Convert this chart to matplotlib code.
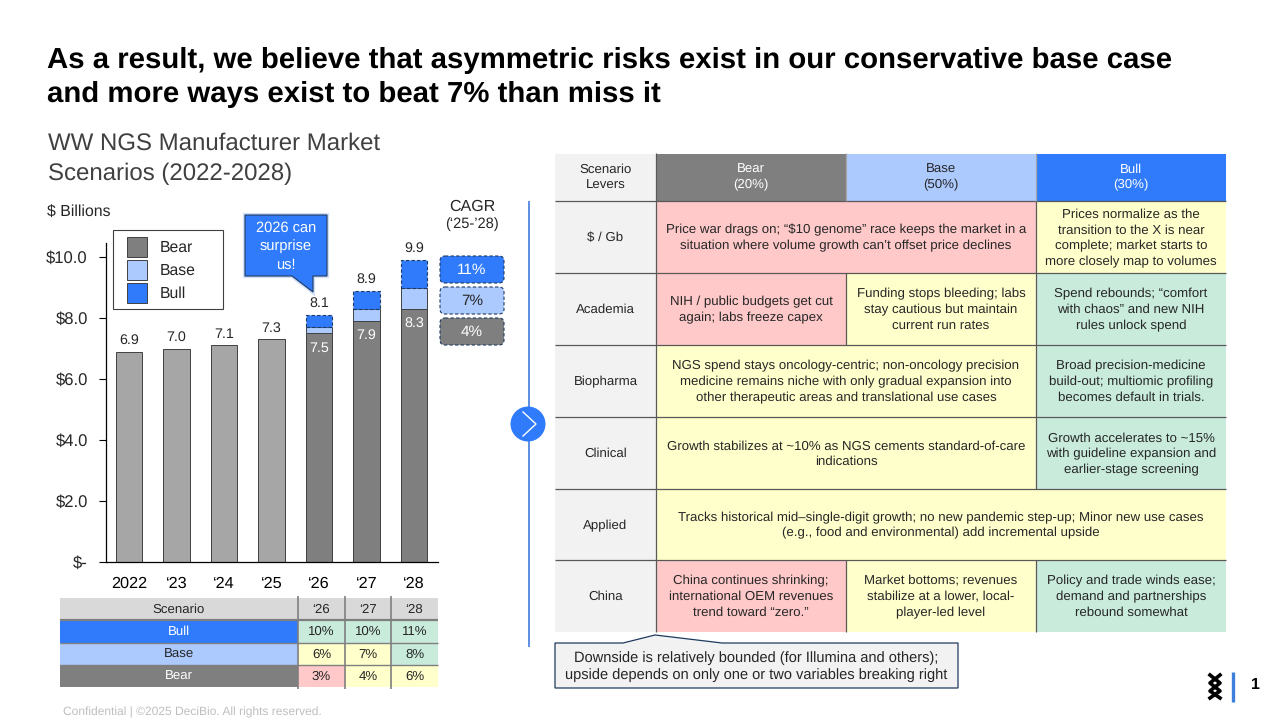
import matplotlib
matplotlib.use("Agg")
import matplotlib.pyplot as plt
from matplotlib.patches import Rectangle, Polygon, Circle, FancyBboxPatch

plt.rcParams['font.family'] = ['Liberation Sans', 'DejaVu Sans']
plt.rcParams['text.hinting'] = 'none'

GREY = "#7f7f7f"
LIGHT_GREY = "#a6a6a6"
BASE = "#adcaff"
BULL = "#2f7bfb"
PINK = "#ffc9c9"
YELLOW = "#ffffcc"
GREEN = "#c8ebdc"
PANEL = "#f2f2f2"
NAVY = "#1f3a5f"
INK = "#262626"

# bar chart
years = ["2022", "‘23", "‘24", "‘25", "‘26", "‘27", "‘28"]
history = [6.9, 7.0, 7.1, 7.3]
bear = [7.5, 7.9, 8.3]
base_top = [7.7, 8.3, 9.0]
bull_top = [8.1, 8.9, 9.9]
yticks = [0, 2, 4, 6, 8, 10]
ytick_labels = ["$-", "$2.0", "$4.0", "$6.0", "$8.0", "$10.0"]
legend_names = ["Bear", "Base", "Bull"]
cagr_labels = ["11%", "7%", "4%"]

# growth table under the chart
growth_years = ["‘26", "‘27", "‘28"]
growth_names = ["Bull", "Base", "Bear"]
growth_values = [["10%", "10%", "11%"], ["6%", "7%", "8%"], ["3%", "4%", "6%"]]
growth_colors = [[GREEN, GREEN, GREEN], [YELLOW, YELLOW, GREEN], [PINK, YELLOW, YELLOW]]

# scenario table: (first column, column span, colour, text)
levers = ["$ / Gb", "Academia", "Biopharma", "Clinical", "Applied", "China"]
scenario_heads = ["Bear\n(20%)", "Base\n(50%)", "Bull\n(30%)"]
scenario_cells = [
    [(0, 2, PINK, "Price war drags on; “$10 genome” race keeps the market in a\nsituation where volume growth can’t offset price declines"),
     (2, 1, YELLOW, "Prices normalize as the\ntransition to the X is near\ncomplete; market starts to\nmore closely map to volumes")],
    [(0, 1, PINK, "NIH / public budgets get cut\nagain; labs freeze capex"),
     (1, 1, YELLOW, "Funding stops bleeding; labs\nstay cautious but maintain\ncurrent run rates"),
     (2, 1, GREEN, "Spend rebounds; “comfort\nwith chaos” and new NIH\nrules unlock spend")],
    [(0, 2, YELLOW, "NGS spend stays oncology-centric; non-oncology precision\nmedicine remains niche with only gradual expansion into\nother therapeutic areas and translational use cases"),
     (2, 1, GREEN, "Broad precision-medicine\nbuild-out; multiomic profiling\nbecomes default in trials.")],
    [(0, 2, YELLOW, "Growth stabilizes at ~10% as NGS cements standard-of-care\nindications"),
     (2, 1, GREEN, "Growth accelerates to ~15%\nwith guideline expansion and\nearlier-stage screening")],
    [(0, 3, YELLOW, "Tracks historical mid–single-digit growth; no new pandemic step-up; Minor new use cases\n(e.g., food and environmental) add incremental upside")],
    [(0, 1, PINK, "China continues shrinking;\ninternational OEM revenues\ntrend toward “zero.”"),
     (1, 1, YELLOW, "Market bottoms; revenues\nstabilize at a lower, local-\nplayer-led level"),
     (2, 1, GREEN, "Policy and trade winds ease;\ndemand and partnerships\nrebound somewhat")],
]

fig = plt.figure(figsize=(12.8, 7.2), dpi=100, facecolor="white")

# slide layer in pixel coordinates
slide = fig.add_axes([0, 0, 1, 1])
slide.set_xlim(0, 1280)
slide.set_ylim(720, 0)
slide.axis("off")


def box(x0, y0, x1, y1, color, edge="none", lw=0, z=1):
    slide.add_patch(Rectangle((x0, y0), x1 - x0, y1 - y0, facecolor=color,
                              edgecolor=edge, linewidth=lw, zorder=z))


def say(x, y, s, size=9.5, color=INK, ha="center", va="center", weight="normal", ls=1.38, z=5):
    slide.text(x, y, s, fontsize=size, color=color, ha=ha, va=va, weight=weight,
               linespacing=ls, ma=ha, zorder=z)


def hline(x0, x1, y, color="#595959", lw=0.9, z=3):
    slide.plot([x0, x1], [y, y], color=color, lw=lw, zorder=z, solid_capstyle="butt")


def vline(x, y0, y1, color="#595959", lw=0.9, z=3):
    slide.plot([x, x], [y0, y1], color=color, lw=lw, zorder=z, solid_capstyle="butt")


# headings
say(47, 60.5, "As a result, we believe that asymmetric risks exist in our conservative base case",
    size=21.17, color="black", ha="left", weight="bold")
say(47, 94.5, "and more ways exist to beat 7% than miss it",
    size=21.17, color="black", ha="left", weight="bold")
say(48, 144, "WW NGS Manufacturer Market", size=17.3, color="#404040", ha="left")
say(48, 174, "Scenarios (2022-2028)", size=17.3, color="#404040", ha="left")
say(47, 212, "$ Billions", size=11.4, ha="left")
say(472, 207, "CAGR", size=11.5)
say(472, 224, "(‘25-’28)", size=10.5)

# bars
ax = fig.add_axes([106 / 1280, (720 - 562) / 720, (438 - 106) / 1280, (562 - 242.5) / 720], zorder=2)
ax.patch.set_visible(False)
ax.set_xlim(-0.484, 6.505)
ax.set_ylim(0, (562 - 242.5) / 30.5)

n_hist = len(history)
hist_x = list(range(n_hist))
scen_x = [n_hist + i for i in range(len(bear))]
bar_w = 0.56
edge = dict(edgecolor="#404040", linewidth=0.7)
ax.bar(hist_x, history, bar_w, color=LIGHT_GREY, **edge)
ax.bar(scen_x, bear, bar_w, color=GREY, **edge)
base_h = [t - b for t, b in zip(base_top, bear)]
bull_h = [t - b for t, b in zip(bull_top, base_top)]
ax.bar(scen_x, base_h, bar_w, bottom=bear, color=BASE, **edge)
ax.bar(scen_x, bull_h, bar_w, bottom=base_top, color=BULL, edgecolor=NAVY, linewidth=0.8, linestyle=(0, (3, 2)))

for x, v in zip(hist_x + scen_x, history + bull_top):
    ax.annotate(f"{v:.1f}", (x, v), xytext=(0, 5), textcoords="offset pixels", ha="center",
                va="bottom", fontsize=10.3, color=INK)
for x, v in zip(scen_x, bear):
    ax.annotate(f"{v:.1f}", (x, v), xytext=(0, -8), textcoords="offset pixels", ha="center",
                va="top", fontsize=10.3, color="white")

ax.set_xticks(range(len(years)), years, fontsize=11.7, color="black", va="baseline")
ax.set_yticks(yticks, ytick_labels, fontsize=12, color=INK)
ax.tick_params(axis="x", length=0, pad=18.5)
ax.tick_params(axis="y", length=5, width=0.8, pad=8)
for side in ("top", "right"):
    ax.spines[side].set_visible(False)
ax.spines["left"].set_linewidth(0.9)
ax.spines["bottom"].set_linewidth(0.9)

# legend box
box(113, 230, 223, 309, "white", edge="#404040", lw=0.8)
for y, name, fill in zip([237, 260, 283], legend_names, [GREY, BASE, BULL]):
    box(127, y, 147, y + 20, fill, edge="#404040", lw=0.7, z=2)
    say(159.5, y + 10.5, name, size=11.3, ha="left")

# callout over the 2026 bar
callout = [(245, 215), (327, 215), (327, 276), (313, 276), (313, 292), (292, 276), (245, 276)]
slide.add_patch(Polygon(callout, closed=True, facecolor="none", edgecolor="#cfe0fb", lw=3, zorder=2))
slide.add_patch(Polygon(callout, closed=True, facecolor=BULL, edgecolor=NAVY, lw=0.8, zorder=3))
say(286, 246.5, "2026 can\nsurprise\nus!", size=10.5, color="white", ls=1.42)

# CAGR chips
chip_tops = [256, 287, 318]
chip_fills = [BULL, BASE, GREY]
chip_text = ["white", INK, "white"]
for y, fill, tc, s in zip(chip_tops, chip_fills, chip_text, cagr_labels):
    slide.add_patch(FancyBboxPatch((442, y + 2), 60, 23, boxstyle="round,pad=2,rounding_size=5",
                                   facecolor=fill, edgecolor=NAVY, lw=0.8, linestyle=(0, (3, 2)), zorder=3))
    say(472, y + 14, s, size=11, color=tc)

# growth table
g_x = [298, 345, 391, 438]
g_y = [598, 620, 643, 665, 687]
g_fills = [BULL, BASE, GREY]
g_text = ["white", INK, "white"]
box(60, g_y[0], 438, g_y[1], "#d9d9d9")
say(179, 610, "Scenario")
for i, s in enumerate(growth_years):
    say((g_x[i] + g_x[i + 1]) / 2, 610, s)
for r, name in enumerate(growth_names):
    box(60, g_y[r + 1], 298, g_y[r + 2], g_fills[r])
    say(179, (g_y[r + 1] + g_y[r + 2]) / 2 + 0.5, name, color=g_text[r])
    for c in range(3):
        box(g_x[c], g_y[r + 1], g_x[c + 1], g_y[r + 2], growth_colors[r][c])
        say((g_x[c] + g_x[c + 1]) / 2, (g_y[r + 1] + g_y[r + 2]) / 2 + 0.5, growth_values[r][c])
hline(60, 438, g_y[1], color="#7f7f7f", lw=1.6)
hline(60, 438, g_y[2], color="#7f7f7f", lw=1.0)
hline(60, 438, g_y[3], color="#7f7f7f", lw=1.0)
for x in g_x[:-1]:
    vline(x, 596, 689, color="#7f7f7f", lw=1.2)

# divider and arrow
vline(528.5, 201, 647, color="#2f72d8", lw=1.1)
slide.add_patch(Circle((528, 424), 17.5, facecolor=BULL, edgecolor="none", zorder=4))
slide.plot([523, 536, 523], [412, 424, 436], color="white", lw=1.0, zorder=5)

# scenario table
col_x = [656, 846, 1036, 1226]
row_y = [201, 273, 345, 417, 489, 560, 632]
box(555, 154, 656, 632, PANEL)
say(605.5, 177.5, "Scenario\nLevers")
head_fills = [GREY, BASE, BULL]
head_text = ["white", INK, "white"]
for i, s in enumerate(scenario_heads):
    box(col_x[i], 154, col_x[i + 1], 201, head_fills[i])
    say((col_x[i] + col_x[i + 1]) / 2, 177.5, s, color=head_text[i])
for r, name in enumerate(levers):
    top, bottom = row_y[r], row_y[r + 1]
    say(605.5, (top + bottom) / 2 + 1, name)
    for first, span, fill, s in scenario_cells[r]:
        box(col_x[first], top, col_x[first + span], bottom, fill)
        say((col_x[first] + col_x[first + span]) / 2, (top + bottom) / 2 + 1, s)
        vline(col_x[first], top, bottom)
for y in row_y[:-1]:
    hline(555, 1226, y)
vline(846, 153, 201, color="#a6a6a6")
vline(1036, 153, 201, color="#a6a6a6")
vline(656, 153, 201)

# note under the table
note = [(555, 643), (623, 643), (655, 635), (722, 643), (958, 643), (958, 688), (555, 688)]
slide.add_patch(Polygon(note, closed=True, facecolor=PANEL, edgecolor=NAVY, lw=0.9, zorder=4))
say(756.5, 666.5, "Downside is relatively bounded (for Illumina and others);\nupside depends on only one or two variables breaking right",
    size=10.5, ls=1.32)

# footer
say(63, 712, "Confidential | ©2025 DeciBio. All rights reserved.", size=8.65, color="#bfbfbf", ha="left")
slide.plot([1210, 1220, 1210, 1220], [675, 683, 691, 698], color="black", lw=2.6, zorder=5)
slide.plot([1220, 1210, 1220, 1210], [675, 683, 691, 698], color="black", lw=2.6, zorder=5)
vline(1233, 672, 702, color="#3f7fdc", lw=2.4)
say(1255, 685, "1", size=11.5, color="black", weight="bold")

fig.savefig("out.png", dpi=100)
